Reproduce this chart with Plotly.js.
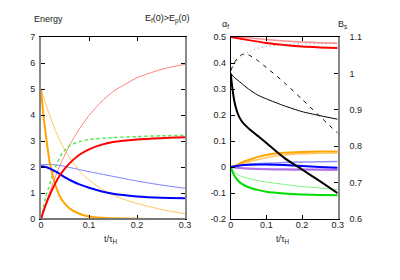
<!DOCTYPE html>
<html><head><meta charset="utf-8">
<script src="https://cdn.plot.ly/plotly-3.0.1.min.js"></script>
<style>html,body{margin:0;padding:0;background:#fff}#c{width:400px;height:280px}</style>
</head><body><div id="c"></div>
<script>
// ---- Left panel: Energy ----
const tRedThick = [0,0.01,0.02,0.03,0.04,0.05,0.06,0.08,0.1,0.125,0.15,0.2,0.25,0.3];
const eRedThick = [0,0.55,1.0,1.38,1.7,1.95,2.15,2.47,2.68,2.85,2.96,3.06,3.11,3.14];
const tRedThin = [0,0.02,0.04,0.06,0.08,0.1,0.125,0.15,0.175,0.2,0.225,0.25,0.275,0.3];
const eRedThin = [0,1.14,2.08,2.85,3.47,3.98,4.5,4.9,5.18,5.43,5.6,5.75,5.86,5.95];
const tGreenDash = [0,0.005,0.01,0.015,0.02,0.03,0.045,0.06,0.08,0.1,0.15,0.2,0.25,0.3];
const eGreenDash = [0,0.45,0.85,1.15,1.45,2.0,2.55,2.82,2.98,3.06,3.13,3.17,3.2,3.22];
const tBlueThick = [0,0.01,0.02,0.03,0.04,0.05,0.06,0.08,0.1,0.125,0.15,0.2,0.25,0.3];
const eBlueThick = [2.03,2.0,1.93,1.83,1.72,1.6,1.5,1.33,1.2,1.07,0.97,0.87,0.82,0.8];
const tBlueThin = [0,0.02,0.04,0.06,0.08,0.1,0.125,0.15,0.2,0.25,0.3];
const eBlueThin = [2.08,2.1,2.06,1.98,1.9,1.82,1.73,1.64,1.46,1.31,1.18];
const tOrThick = [0,0.005,0.01,0.015,0.02,0.03,0.04,0.05,0.06,0.08,0.1,0.125,0.15,0.2,0.25,0.3];
const eOrThick = [5.0,4.0,3.25,2.55,2.0,1.3,0.85,0.58,0.4,0.2,0.1,0.05,0.03,0.01,0,0];
const tOrThin = [0,0.01,0.02,0.03,0.04,0.05,0.06,0.08,0.1,0.125,0.15,0.175,0.2,0.25,0.3];
const eOrThin = [5.0,4.4,3.9,3.4,3.0,2.65,2.35,1.85,1.5,1.17,0.92,0.74,0.6,0.37,0.2];

// ---- Right panel: alpha_f (left axis) ----
const tA = [0,0.05,0.1,0.15,0.2,0.25,0.3];
const aRedThick = [0.5,0.488,0.477,0.469,0.463,0.46,0.458];
const aRedThin = [0.5,0.497,0.49,0.485,0.481,0.478,0.476];
const tOr = [0,0.01,0.02,0.04,0.06,0.08,0.1,0.125,0.15,0.2,0.25,0.3];
const aOrThick = [0,0.003,0.01,0.022,0.032,0.04,0.046,0.052,0.055,0.058,0.06,0.06];
const aOrThin = [0,0.002,0.006,0.015,0.023,0.03,0.036,0.042,0.046,0.051,0.053,0.054];
const tB = [0,0.025,0.05,0.1,0.15,0.2,0.25,0.3];
const aBlueThick = [0,0.006,0.009,0.01,0.008,0.004,0.0,-0.003];
const aBlueThin = [0,0.006,0.01,0.014,0.017,0.019,0.02,0.021];
const aPurThick = [0,-0.004,-0.007,-0.009,-0.01,-0.011,-0.011,-0.012];
const aPurThin = [0,-0.003,-0.005,-0.007,-0.008,-0.008,-0.008,-0.008];
const tG = [0,0.01,0.02,0.03,0.05,0.075,0.1,0.15,0.2,0.25,0.3];
const aGreenThick = [0,-0.033,-0.052,-0.064,-0.078,-0.088,-0.095,-0.102,-0.106,-0.108,-0.109];
const aGreenThin = [0,-0.02,-0.03,-0.036,-0.044,-0.052,-0.058,-0.067,-0.075,-0.081,-0.087];

// ---- Right panel: B_s (right axis) ----
const tKThick = [0,0.005,0.01,0.015,0.02,0.03,0.05,0.075,0.1,0.125,0.15,0.2,0.25,0.3];
const bKThick = [1.0,0.957,0.925,0.904,0.889,0.87,0.849,0.829,0.809,0.788,0.768,0.736,0.704,0.671];
const tKThin = [0,0.01,0.02,0.03,0.05,0.075,0.1,0.15,0.2,0.25,0.3];
const bKThin = [1.0,0.989,0.981,0.973,0.957,0.941,0.93,0.911,0.895,0.884,0.874];
const tKDash = [0,0.01,0.02,0.03,0.04,0.05,0.075,0.1,0.125,0.15,0.2,0.25,0.3];
const bKDash = [1.007,1.029,1.043,1.051,1.054,1.051,1.036,1.016,0.996,0.975,0.929,0.882,0.836];
const tKDot = [0,0.01,0.02,0.03,0.05,0.075,0.1,0.15,0.2,0.25,0.3];
const bKDot = [1.009,1.025,1.036,1.046,1.059,1.069,1.074,1.079,1.081,1.082,1.083];

// tick labels
const xTicks = [0,0.1,0.2,0.3];
const xTickText = ['0','0.1','0.2','0.3'];
const eTicks = [0,1,2,3,4,5,6,7];
const aTicks = [-0.2,-0.1,0,0.1,0.2,0.3,0.4,0.5];
const aTickText = ['-0.2','-0.1','0','0.1','0.2','0.3','0.4','0.5'];
const bTicks = [0.6,0.7,0.8,0.9,1.0,1.1];
const bTickText = ['0.6','0.7','0.8','0.9','1','1.1'];

function L(x,y,color,width,dash,xa,ya){
  return {x:x,y:y,type:'scatter',mode:'lines',xaxis:xa,yaxis:ya,
    line:{color:color,width:width,dash:dash||'solid',shape:'spline',smoothing:0.6},hoverinfo:'skip'};
}
const data = [
  L(tRedThin,eRedThin,'#ff8080',1,null,'x','y'),
  L(tOrThin,eOrThin,'#ffc860',1,null,'x','y'),
  L(tBlueThin,eBlueThin,'#8080ff',1,null,'x','y'),
  L(tGreenDash,eGreenDash,'#40f040',1.5,'3px,3px','x','y'),
  L(tOrThick,eOrThick,'#ffa500',2,null,'x','y'),
  L(tBlueThick,eBlueThick,'#0000ff',2,null,'x','y'),
  L(tRedThick,eRedThick,'#ff0000',2,null,'x','y'),

  L(tA,aRedThin,'#ff9090',1.5,null,'x2','y2'),
  L(tA,aRedThick,'#ff0000',2,null,'x2','y2'),
  L(tOr,aOrThin,'#ffc860',1.5,null,'x2','y2'),
  L(tOr,aOrThick,'#ffa500',2,null,'x2','y2'),
  L(tB,aBlueThin,'#9090ff',1.5,null,'x2','y2'),
  L(tB,aPurThin,'#d8a8ff',1.5,null,'x2','y2'),
  L(tB,aPurThick,'#b070e8',2,null,'x2','y2'),
  L(tB,aBlueThick,'#0000ff',2,null,'x2','y2'),
  L(tG,aGreenThin,'#80f080',1,null,'x2','y2'),
  L(tG,aGreenThick,'#00dd00',2,null,'x2','y2'),

  L(tKDot,bKDot,'#888888',1,'1px,3px','x2','y3'),
  L(tKDash,bKDash,'#000000',1,'4px,5px','x2','y3'),
  L(tKThin,bKThin,'#000000',1,null,'x2','y3'),
  L(tKThick,bKThick,'#000000',2,null,'x2','y3')
];

const F = {family:'"Liberation Sans", Arial, sans-serif', size:9, color:'#222'};
const xd1 = [41/400,185/400], xd2 = [230.7/400,337.7/400];
const yd = [1-219/280, 1-37/280];
const axBase = {ticks:'inside',ticklen:4,tickwidth:1,tickcolor:'#000',showgrid:false,zeroline:false,
  showline:false,tickfont:F,fixedrange:true};

const layout = {
  width:400,height:280,margin:{l:0,r:0,t:0,b:0},paper_bgcolor:'#fff',plot_bgcolor:'rgba(0,0,0,0)',
  showlegend:false,font:F,
  xaxis:Object.assign({},axBase,{domain:xd1,range:[0,0.3],tickvals:xTicks,ticktext:xTickText,anchor:'y',mirror:'ticks',
    showline:true,linecolor:'#000',linewidth:1,ticklabelstandoff:-3}),
  yaxis:Object.assign({},axBase,{domain:yd,range:[0,7],tickvals:eTicks,anchor:'x',mirror:'ticks',
    showline:true,linecolor:'#888',linewidth:2,ticklabelstandoff:2}),
  xaxis2:Object.assign({},axBase,{domain:xd2,range:[0,0.3],tickvals:xTicks,ticktext:xTickText,anchor:'y2',mirror:'ticks',
    showline:true,linecolor:'#000',linewidth:1,ticklabelstandoff:-3}),
  yaxis2:Object.assign({},axBase,{domain:yd,range:[-0.2,0.5],tickvals:aTicks,ticktext:aTickText,anchor:'x2',
    showline:true,linecolor:'#000',linewidth:1,ticklabelstandoff:2}),
  yaxis3:Object.assign({},axBase,{domain:yd,range:[0.6,1.1],tickvals:bTicks,ticktext:bTickText,anchor:'x2',
    overlaying:'y2',side:'right',showline:true,linecolor:'#888',linewidth:2,ticklabelstandoff:8}),
  shapes:[
    {type:'line',xref:'x domain',yref:'y domain',x0:0,x1:1,y0:0,y1:0,line:{color:'#777',width:2}}
  ],
  annotations:[
    {text:'Energy',x:32/400,y:1-19/280,xref:'paper',yref:'paper',xanchor:'left',yanchor:'middle',showarrow:false,font:F},
    {text:'E<sub>f</sub>(0)>E<sub>p</sub>(0)',x:192/400,y:1-19/280,xref:'paper',yref:'paper',xanchor:'right',yanchor:'middle',showarrow:false,font:F},
    {text:'t/τ<sub>H</sub>',x:111/400,y:1-239/280,xref:'paper',yref:'paper',xanchor:'center',yanchor:'middle',showarrow:false,font:F},
    {text:'t/τ<sub>H</sub>',x:283/400,y:1-239/280,xref:'paper',yref:'paper',xanchor:'center',yanchor:'middle',showarrow:false,font:F},
    {text:'α<sub>f</sub>',x:226/400,y:1-24/280,xref:'paper',yref:'paper',xanchor:'center',yanchor:'middle',showarrow:false,font:F},
    {text:'B<sub>s</sub>',x:342/400,y:1-24/280,xref:'paper',yref:'paper',xanchor:'center',yanchor:'middle',showarrow:false,font:F}
  ]
};
Plotly.newPlot('c',data,layout,{staticPlot:true,displayModeBar:false});
</script></body></html>
